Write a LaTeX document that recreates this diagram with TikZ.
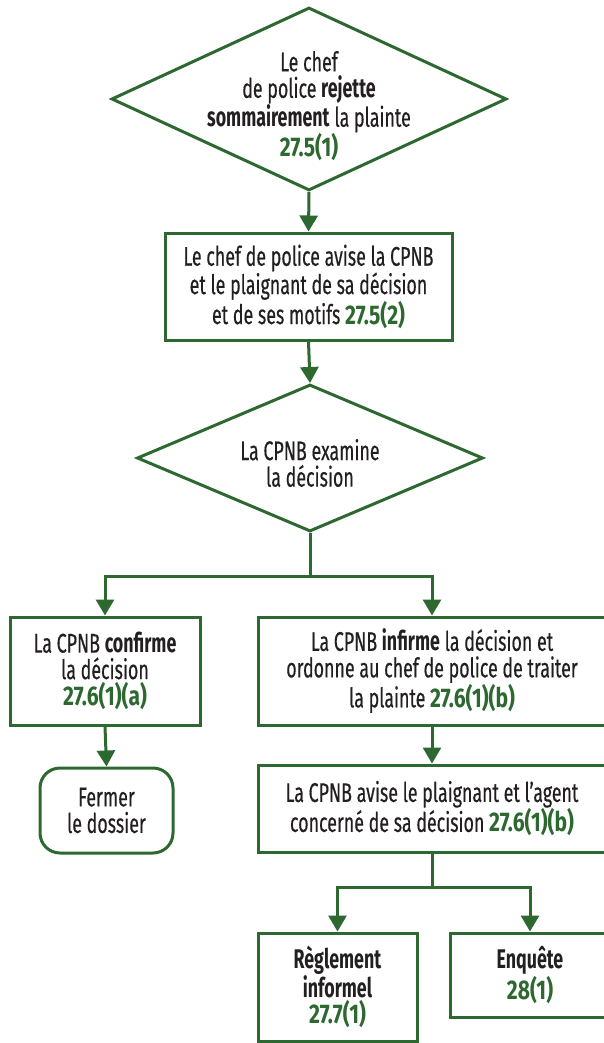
\documentclass[tikz,border=0pt]{standalone}
\usepackage{fontspec}
\setmainfont{Fira Sans}[FakeStretch=0.66, UprightFeatures={FakeBold=0.4}]
\newfontfamily\numfont{Fira Sans}[FakeStretch=0.78]
\usepackage{xcolor}
\usetikzlibrary{shapes.geometric, arrows.meta, positioning}

\definecolor{cpgreen}{RGB}{45,104,48}
\definecolor{cptext}{RGB}{35,31,32}
\newcommand{\art}[1]{{\numfont\bfseries\color{cpgreen}#1}}

\begin{document}
\begin{tikzpicture}[x=1pt, y=-1pt, >={Triangle[length=16pt,width=18pt]},
  every node/.style={font=\fontsize{27}{26.5}\selectfont, text=cptext, align=center},
  box/.style={rectangle, draw=cpgreen, line width=3pt, inner sep=0pt},
  decision/.style={diamond, draw=cpgreen, line width=3pt, inner sep=0pt},
  stopbox/.style={box, rounded corners=20pt},
  link/.style={draw=cpgreen, line width=3pt, ->}]
\useasboundingbox (0,0) rectangle (603,1043);
% decisions and boxes
\node[decision, minimum width=395pt, minimum height=183pt,
  label={[yshift=-7pt]center:Le chef\\de police \textbf{rejette}\\\textbf{sommairement} la plainte\\\art{27.5(1)}}] at (309,99) (rejet) {};
\node[box, minimum width=287pt, minimum height=107pt] at (308.5,286.5) (avis)
  {Le chef de police avise la CPNB\\et le plaignant de sa décision\\et de ses motifs \art{27.5(2)}};
\node[decision, minimum width=346pt, minimum height=147pt,
  label={[yshift=-5pt]center:La CPNB examine\\la décision}] at (310,458) (examen) {};
\node[box, minimum width=190pt, minimum height=108pt] at (105,671) (confirme)
  {La CPNB \textbf{confirme}\\la décision\\\art{27.6(1)(a)}};
\node[stopbox, minimum width=133pt, minimum height=85pt] at (106.5,810.5) (fermer)
  {Fermer\\le dossier};
\node[box, minimum width=348pt, minimum height=108pt] at (432,671) (infirme)
  {La CPNB \textbf{infirme} la décision et\\ordonne au chef de police de traiter\\la plainte \art{27.6(1)(b)}};
\node[box, minimum width=348pt, minimum height=87pt] at (432,808.5) (avisagent)
  {La CPNB avise le plaignant et l’agent\\concerné de sa décision \art{27.6(1)(b)}};
\node[box, minimum width=159pt, minimum height=108pt] at (337.5,987) (reglement)
  {\textbf{Règlement}\\\textbf{informel}\\\art{27.7(1)}};
\node[box, minimum width=160pt, minimum height=84pt] at (530,975) (enquete)
  {\textbf{Enquête}\\\art{28(1)}};
% junctions
\coordinate (split1) at (310,576);
\coordinate (split2) at (432,887);
% connectors
\draw[link] (rejet.south) -- (avis.north);
\draw[link] (avis.south) -- (examen.north);
\draw[draw=cpgreen, line width=3pt] (examen.south) -- (split1);
\draw[link] (split1) -| (confirme.north);
\draw[link] (split1) -| (infirme.north);
\draw[link] (confirme.south) -- (fermer.north);
\draw[link] (infirme.south) -- (avisagent.north);
\draw[draw=cpgreen, line width=3pt] (avisagent.south) -- (split2);
\draw[link] (split2) -| (reglement.north);
\draw[link] (split2) -| (enquete.north);
\end{tikzpicture}
\end{document}
